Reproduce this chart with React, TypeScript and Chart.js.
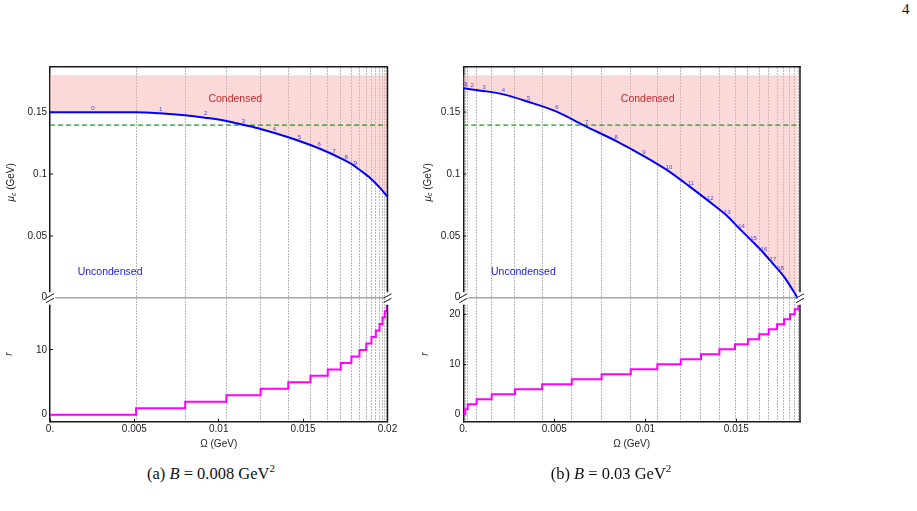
import React, { useEffect, useRef } from 'react';
import { Chart, registerables } from 'chart.js';

Chart.register(...registerables);
Chart.defaults.font.family = "'Liberation Sans', Arial, sans-serif";

// ---------- shared values ----------
const PION_MASS = 0.1396;
const CONDENSED_TOP = 0.18;
const yTopTicks = [0, 0.05, 0.1, 0.15];
const yTopMin = -0.0059;
const yTopMax = 0.18665;

// ---------- panel (a): B = 0.008 GeV^2 ----------
const omegaCurveA = [0, 0.0051, 0.0065, 0.008, 0.0092, 0.01045, 0.0115, 0.01248, 0.01412, 0.01543, 0.01644, 0.01723, 0.01786, 0.01836, 0.01899, 0.01958, 0.02];
const muCurveA = [0.15, 0.15, 0.1492, 0.1476, 0.1456, 0.143, 0.1397, 0.1365, 0.1298, 0.1235, 0.1179, 0.1128, 0.1082, 0.1033, 0.0966, 0.0885, 0.0817];
const stepOmegaA = [0, 0.0051, 0.00801, 0.01045, 0.01248, 0.01412, 0.01543, 0.01646, 0.01723, 0.01786, 0.01834, 0.01874, 0.01905, 0.01931, 0.01953, 0.0197, 0.01984, 0.01996];
const stepLevelA = [0, 1, 2, 3, 4, 5, 6, 7, 8, 9, 10, 11, 12, 13, 14, 15, 16, 17];
const curveLabelsA = ['0', '1', '2', '3', '4', '5', '6', '7', '8', '9'];
const xTicksA = [0, 0.005, 0.01, 0.015, 0.02];
const yBotTicksA = [0, 10];

// ---------- panel (b): B = 0.03 GeV^2 ----------
const omegaCurveB = [0, 0.0011, 0.0022, 0.00357, 0.00513, 0.00659, 0.00843, 0.00989, 0.01126, 0.01246, 0.01356, 0.01447, 0.0152, 0.01593, 0.01648, 0.01703, 0.01758, 0.01837];
const muCurveB = [0.1694, 0.1673, 0.1645, 0.1585, 0.1505, 0.1396, 0.1265, 0.1148, 0.1026, 0.0897, 0.0773, 0.0665, 0.0555, 0.0449, 0.0366, 0.0272, 0.0178, 0.0];
const stepOmegaB = [0, 0.0001, 0.00024, 0.00073, 0.00156, 0.00284, 0.00433, 0.00596, 0.0076, 0.0092, 0.01066, 0.01195, 0.01306, 0.01407, 0.01493, 0.01564, 0.01626, 0.01678, 0.01724, 0.01762, 0.01795, 0.01821, 0.01841];
const stepLevelB = [0, 1, 2, 3, 4, 5, 6, 7, 8, 9, 10, 11, 12, 13, 14, 15, 16, 17, 18, 19, 20, 21, 22];
const curveLabelsB = ['0', '1', '2', '3', '4', '5', '6', '7', '8', '9', '10', '11', '12', '13', '14', '15', '16', '17', '18'];
const xTicksB = [0, 0.005, 0.01, 0.015];
const yBotTicksB = [0, 10, 20];

type PanelSpec = {
  omegaCurve: number[]; muCurve: number[]; stepOmega: number[]; stepLevel: number[];
  curveLabels: string[]; xTicks: number[]; yBotTicks: number[];
  xMax: number; yBotMin: number; yBotMax: number;
  canvasLeft: number; yAxisWidth: number; padRight: number;
  muTitleDx: number; rTitleDx: number;
  condensedAt: [number, number]; uncondensedAt: [number, number];
};

const panelA: PanelSpec = {
  omegaCurve: omegaCurveA, muCurve: muCurveA, stepOmega: stepOmegaA, stepLevel: stepLevelA,
  curveLabels: curveLabelsA, xTicks: xTicksA, yBotTicks: yBotTicksA,
  xMax: 0.02, yBotMin: -1.08, yBotMax: 16.95,
  canvasLeft: 0, yAxisWidth: 50, padRight: 32.5, muTitleDx: 38.5, rTitleDx: 40.5,
  condensedAt: [0.01098, 0.1605], uncondensedAt: [0.00356, 0.0205],
};
const panelB: PanelSpec = {
  omegaCurve: omegaCurveB, muCurve: muCurveB, stepOmega: stepOmegaB, stepLevel: stepLevelB,
  curveLabels: curveLabelsB, xTicks: xTicksB, yBotTicks: yBotTicksB,
  xMax: 0.0185, yBotMin: -1.48, yBotMax: 21.86,
  canvasLeft: 410, yAxisWidth: 53.3, padRight: 30, muTitleDx: 35.5, rTitleDx: 38.5,
  condensedAt: [0.01013, 0.1605], uncondensedAt: [0.0033, 0.0205],
};

const CANVAS_W = 420;
const CANVAS_H = 460;
const FRAME = '#1a1a1a';
const TICK_TXT = '#222';

function interp(xs: number[], ys: number[], x: number) {
  for (let i = 0; i < xs.length - 1; i++) {
    if (x >= xs[i] && x <= xs[i + 1]) {
      const t = (x - xs[i]) / (xs[i + 1] - xs[i] || 1);
      return ys[i] + t * (ys[i + 1] - ys[i]);
    }
  }
  return ys[ys.length - 1];
}

function makeDecor(p: PanelSpec) {
  return {
    id: 'decor',
    afterDraw(chart: any) {
      const { ctx, chartArea, scales } = chart;
      const xs = scales.x, yt = scales.yTop, yb = scales.yBot;
      ctx.save();
      // curve labels
      ctx.font = "6px 'Liberation Sans', Arial, sans-serif";
      ctx.fillStyle = '#5048c8';
      ctx.textAlign = 'center';
      ctx.textBaseline = 'middle';
      p.curveLabels.forEach((lab, n) => {
        const xm = (p.stepOmega[n] + p.stepOmega[n + 1]) / 2;
        const ym = interp(p.omegaCurve, p.muCurve, xm);
        ctx.fillText(lab, xs.getPixelForValue(xm), yt.getPixelForValue(ym) - 4);
      });
      // region labels
      ctx.font = "10.5px 'Liberation Sans', Arial, sans-serif";
      ctx.fillStyle = '#c42a2a';
      ctx.fillText('Condensed', xs.getPixelForValue(p.condensedAt[0]), yt.getPixelForValue(p.condensedAt[1]));
      ctx.fillStyle = '#2020e6';
      ctx.fillText('Uncondensed', xs.getPixelForValue(p.uncondensedAt[0]), yt.getPixelForValue(p.uncondensedAt[1]));
      // right frame
      ctx.strokeStyle = FRAME;
      ctx.lineWidth = 1.5;
      ctx.beginPath();
      ctx.moveTo(chartArea.right, chartArea.top);
      ctx.lineTo(chartArea.right, chartArea.bottom);
      ctx.stroke();
      // axis breaks
      const y0 = yt.getPixelForValue(0);
      [chartArea.left, chartArea.right].forEach((bx: number) => {
        ctx.fillStyle = '#fff';
        ctx.fillRect(bx - 2.5, y0 - 5.5, 7.5, 12.5);
        ctx.strokeStyle = FRAME;
        ctx.lineWidth = 1;
        ctx.beginPath();
        ctx.moveTo(bx - 4, y0 + 0.5); ctx.lineTo(bx + 4, y0 - 4);
        ctx.moveTo(bx - 4, y0 + 5); ctx.lineTo(bx + 4, y0 + 0.5);
        ctx.stroke();
      });
      // y titles
      const drawRot = (x: number, y: number, parts: { t: string; f: string; dy: number }[]) => {
        ctx.save();
        ctx.translate(x, y);
        ctx.rotate(-Math.PI / 2);
        ctx.fillStyle = TICK_TXT;
        ctx.textAlign = 'left';
        ctx.textBaseline = 'middle';
        let total = 0;
        const ws = parts.map((q) => { ctx.font = q.f; const w = ctx.measureText(q.t).width; total += w; return w; });
        let cx = -total / 2;
        parts.forEach((q, i) => { ctx.font = q.f; ctx.fillText(q.t, cx, q.dy); cx += ws[i]; });
        ctx.restore();
      };
      const fam = "'Liberation Sans', Arial, sans-serif";
      drawRot(chartArea.left - p.muTitleDx, (yt.top + y0) / 2, [
        { t: 'μ', f: `italic 10px ${fam}`, dy: 0 },
        { t: 'c', f: `italic 7px ${fam}`, dy: 2.5 },
        { t: ' (GeV)', f: `10px ${fam}`, dy: 0 },
      ]);
      drawRot(chartArea.left - p.rTitleDx, yb.top + 49, [{ t: 'r', f: `italic 10px ${fam}`, dy: 0 }]);
      ctx.restore();
    },
  };
}

function buildConfig(p: PanelSpec): any {
  const curve = p.omegaCurve.map((x, i) => ({ x, y: p.muCurve[i] }));
  const steps = p.stepOmega.map((x, i) => ({ x, y: p.stepLevel[i] }));
  steps.push({ x: p.xMax, y: p.stepLevel[p.stepLevel.length - 1] });
  const pion = [{ x: 0, y: PION_MASS }, { x: p.xMax, y: PION_MASS }];
  const gridAt = p.stepOmega.slice(1);
  const tickFont = { size: 10 };
  return {
    type: 'line',
    data: {
      datasets: [
        {
          data: curve, xAxisID: 'x', yAxisID: 'yTop', borderColor: '#0000ff', borderWidth: 2,
          pointRadius: 0, cubicInterpolationMode: 'monotone',
          fill: { value: CONDENSED_TOP }, backgroundColor: 'rgba(250,180,180,0.5)',
        },
        {
          data: pion, xAxisID: 'x', yAxisID: 'yTop', borderColor: '#1c9a1c', borderWidth: 1.2,
          borderDash: [5, 3], pointRadius: 0, fill: false,
        },
        {
          data: steps, xAxisID: 'x', yAxisID: 'yBot', borderColor: '#ff00ff', borderWidth: 2,
          stepped: 'before', pointRadius: 0, fill: false,
        },
      ],
    },
    options: {
      animation: false,
      responsive: false,
      devicePixelRatio: 1,
      events: [],
      layout: { padding: { left: 0, top: 67, right: p.padRight, bottom: 0 } },
      plugins: {
        legend: { display: false },
        tooltip: { enabled: false },
        filler: { drawTime: 'beforeDatasetsDraw' },
      },
      scales: {
        x: {
          type: 'linear', position: 'bottom', min: 0, max: p.xMax,
          afterBuildTicks: (s: any) => { s.ticks = p.xTicks.map((v) => ({ value: v })); },
          ticks: {
            autoSkip: false, maxRotation: 0, minRotation: 0, padding: 5, color: TICK_TXT, font: tickFont,
            callback: (v: number) => (v === 0 ? '0.' : String(+Number(v).toFixed(4))),
          },
          grid: { drawOnChartArea: false, drawTicks: true, tickLength: -3, tickColor: FRAME, tickWidth: 1 },
          border: { display: true, color: FRAME, width: 1.5 },
          title: { display: true, text: 'Ω (GeV)', color: TICK_TXT, font: { size: 10 }, padding: { top: 0, bottom: 10 } },
          afterFit: (s: any) => { s.height = 38.3; },
        },
        xg: {
          type: 'linear', position: 'top', min: 0, max: p.xMax,
          afterBuildTicks: (s: any) => { s.ticks = gridAt.map((v) => ({ value: v })); },
          ticks: { display: false, autoSkip: false },
          grid: { drawOnChartArea: true, drawTicks: false, color: '#707070', lineWidth: 1 },
          border: { display: true, color: FRAME, width: 1.5, dash: [1, 2] },
          afterFit: (s: any) => { s.height = 0; },
        },
        yBot: {
          type: 'linear', position: 'left', stack: 'panel', stackWeight: 116.7, weight: 1,
          min: p.yBotMin, max: p.yBotMax,
          afterBuildTicks: (s: any) => { s.ticks = p.yBotTicks.map((v) => ({ value: v })); },
          ticks: { padding: 6, color: TICK_TXT, font: tickFont, callback: (v: number) => String(v) },
          grid: { drawOnChartArea: false, drawTicks: true, tickLength: -3, tickColor: FRAME, tickWidth: 1 },
          border: { display: true, color: FRAME, width: 1.5 },
          afterFit: (s: any) => { s.width = p.yAxisWidth; },
        },
        yTop: {
          type: 'linear', position: 'left', stack: 'panel', stackWeight: 238, weight: 2,
          min: yTopMin, max: yTopMax,
          afterBuildTicks: (s: any) => { s.ticks = yTopTicks.map((v) => ({ value: v })); },
          ticks: { padding: 6, color: TICK_TXT, font: tickFont, callback: (v: number) => String(v) },
          grid: {
            drawOnChartArea: true, drawTicks: true, tickLength: -3, tickColor: FRAME, tickWidth: 1,
            color: (c: any) => (c.tick && c.tick.value === 0 ? '#a8a8a8' : 'rgba(0,0,0,0)'),
            lineWidth: (c: any) => (c.tick && c.tick.value === 0 ? 1.5 : 0),
          },
          border: { display: true, color: FRAME, width: 1.5 },
          afterFit: (s: any) => { s.width = p.yAxisWidth; },
        },
      },
    },
    plugins: [makeDecor(p)],
  };
}

function Panel({ spec }: { spec: PanelSpec }) {
  const ref = useRef<HTMLCanvasElement | null>(null);
  useEffect(() => {
    if (!ref.current) return;
    const chart = new Chart(ref.current, buildConfig(spec));
    return () => chart.destroy();
  }, [spec]);
  return (
    <canvas
      ref={ref}
      width={CANVAS_W}
      height={CANVAS_H}
      style={{ position: 'absolute', left: spec.canvasLeft, top: 0, width: CANVAS_W, height: CANVAS_H, display: 'block' }}
    />
  );
}

const captionStyle: React.CSSProperties = {
  position: 'absolute', top: 462, width: 240, textAlign: 'center',
  fontFamily: "'Liberation Serif', 'DejaVu Serif', serif", fontSize: 16.5, color: '#111', whiteSpace: 'nowrap',
};

export default function App() {
  return (
    <div style={{ position: 'absolute', left: 0, top: 0, width: 917, height: 511, background: '#fff', overflow: 'hidden' }}>
      <div style={{ position: 'absolute', left: 902, top: 1, fontFamily: "'Liberation Serif', serif", fontSize: 15, color: '#111' }}>4</div>
      <Panel spec={panelA} />
      <Panel spec={panelB} />
      <div style={{ ...captionStyle, left: 91 }}>
        (a) <i>B</i> = 0.008 GeV<sup style={{ fontSize: 11 }}>2</sup>
      </div>
      <div style={{ ...captionStyle, left: 491 }}>
        (b) <i>B</i> = 0.03 GeV<sup style={{ fontSize: 11 }}>2</sup>
      </div>
    </div>
  );
}
